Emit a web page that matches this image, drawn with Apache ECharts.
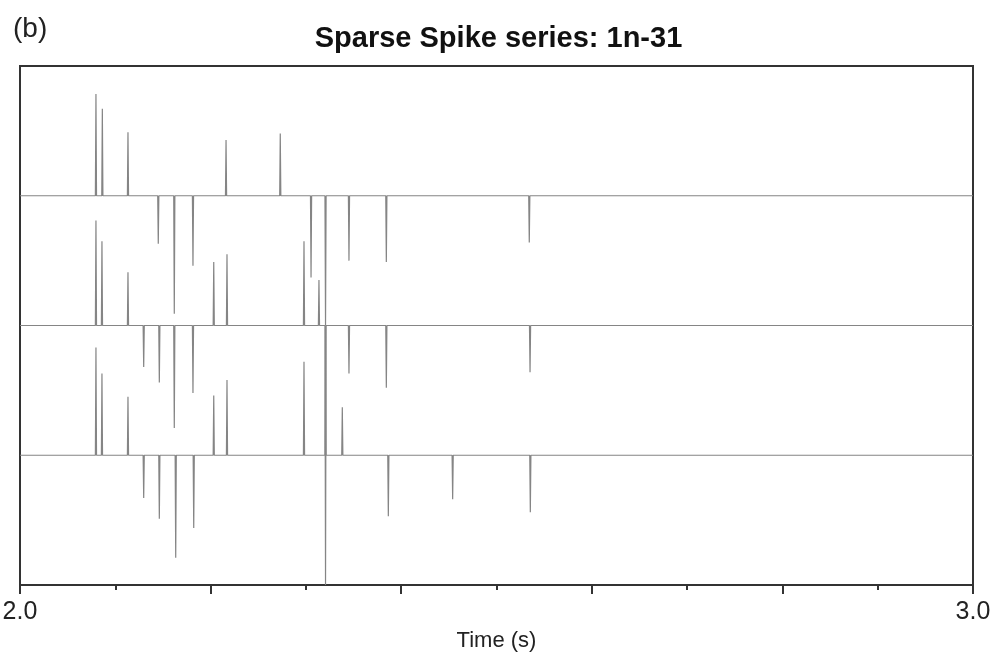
<!DOCTYPE html>
<html>
<head>
<meta charset="utf-8">
<title>Sparse Spike series: 1n-31</title>
<script src="https://cdn.jsdelivr.net/npm/echarts@6/dist/echarts.min.js"></script>
<style>
  html, body { margin: 0; padding: 0; background: #fff; }
  #chart { width: 997px; height: 655px; }
</style>
</head>
<body>
<div id="chart"></div>
<script>
// Three spike trains stacked on offset baselines (3, 2, 1).
// Spike times in seconds, amplitudes in baseline-spacing units (+ up, - down).
const trace1Times = [2.0797, 2.0864, 2.1133, 2.1451, 2.1619, 2.1815, 2.2162, 2.2731, 2.3054, 2.3206, 2.3452, 2.3844, 2.5344];
const trace1Amps  = [0.785, 0.67, 0.49, -0.37, -0.91, -0.54, 0.43, 0.48, -0.63, -1.0, -0.50, -0.51, -0.36];

const trace2Times = [2.0797, 2.0860, 2.1133, 2.1298, 2.1462, 2.1619, 2.1815, 2.2033, 2.2172, 2.2980, 2.3137, 2.3206, 2.3452, 2.3844, 2.5352];
const trace2Amps  = [0.81, 0.65, 0.41, -0.32, -0.44, -0.79, -0.52, 0.49, 0.55, 0.65, 0.35, -2.0, -0.37, -0.48, -0.36];

const trace3Times = [2.0797, 2.0860, 2.1133, 2.1298, 2.1462, 2.1634, 2.1823, 2.2033, 2.2172, 2.2980, 2.3206, 2.3382, 2.3865, 2.4540, 2.5355];
const trace3Amps  = [0.83, 0.63, 0.45, -0.33, -0.49, -0.79, -0.56, 0.46, 0.58, 0.72, 1.0, 0.37, -0.47, -0.34, -0.44];

const baselines = [3, 2, 1];
const timeRange = [2.0, 3.0];
const labeledTicks = [2.0, 3.0];

const FONT = '"Liberation Sans", Arial, Helvetica, sans-serif';
const HALF_WIDTH = 0.0006; // half-width of each spike, seconds

// Turn a list of spikes into a polyline riding on its baseline.
function spikeTrain(base, times, amps) {
  const order = times.map((t, i) => i).sort((a, b) => times[a] - times[b]);
  const pts = [[timeRange[0], base]];
  order.forEach(i => {
    const t = times[i];
    pts.push([t - HALF_WIDTH, base]);
    pts.push([t, base + amps[i]]);
    pts.push([t + HALF_WIDTH, base]);
  });
  pts.push([timeRange[1], base]);
  return pts;
}

const traces = [
  spikeTrain(baselines[0], trace1Times, trace1Amps),
  spikeTrain(baselines[1], trace2Times, trace2Amps),
  spikeTrain(baselines[2], trace3Times, trace3Amps)
];

const chart = echarts.init(document.getElementById('chart'), null, { renderer: 'canvas' });

chart.setOption({
  animation: false,
  backgroundColor: '#fff',
  title: {
    text: 'Sparse Spike series: 1n-31',
    left: 'center',
    top: 19,
    textStyle: { fontFamily: FONT, fontSize: 29, fontWeight: 'bold', color: '#111' }
  },
  graphic: [{
    type: 'text',
    left: 13,
    top: 15,
    style: { text: '(b)', fontFamily: FONT, fontSize: 28, fill: '#222' }
  }],
  grid: {
    left: 20, right: 24, top: 66, bottom: 70,
    outerBoundsMode: 'none',
    containLabel: false,
    show: true,
    borderColor: '#333',
    borderWidth: 2,
    backgroundColor: 'transparent'
  },
  xAxis: {
    type: 'value',
    min: timeRange[0],
    max: timeRange[1],
    interval: 0.2,
    name: 'Time (s)',
    nameLocation: 'middle',
    nameGap: 39,
    nameTextStyle: { fontFamily: FONT, fontSize: 22, color: '#222' },
    axisLine: { show: true, onZero: false, lineStyle: { color: '#333', width: 2 } },
    axisTick: { show: true, inside: false, length: 9, lineStyle: { color: '#333', width: 2 } },
    minorTick: { show: true, splitNumber: 2, length: 5, lineStyle: { color: '#333', width: 2 } },
    splitLine: { show: false },
    axisLabel: {
      margin: 15,
      fontFamily: FONT,
      fontSize: 25,
      color: '#222',
      formatter: v => labeledTicks.some(t => Math.abs(t - v) < 1e-9) ? v.toFixed(1) : ''
    }
  },
  yAxis: {
    type: 'value',
    min: 0,
    max: 4,
    show: false
  },
  series: traces.map(data => ({
    type: 'line',
    data: data,
    showSymbol: false,
    symbol: 'none',
    clip: true,
    lineStyle: { color: '#858585', width: 1.2 },
    emphasis: { disabled: true }
  }))
});
</script>
</body>
</html>
